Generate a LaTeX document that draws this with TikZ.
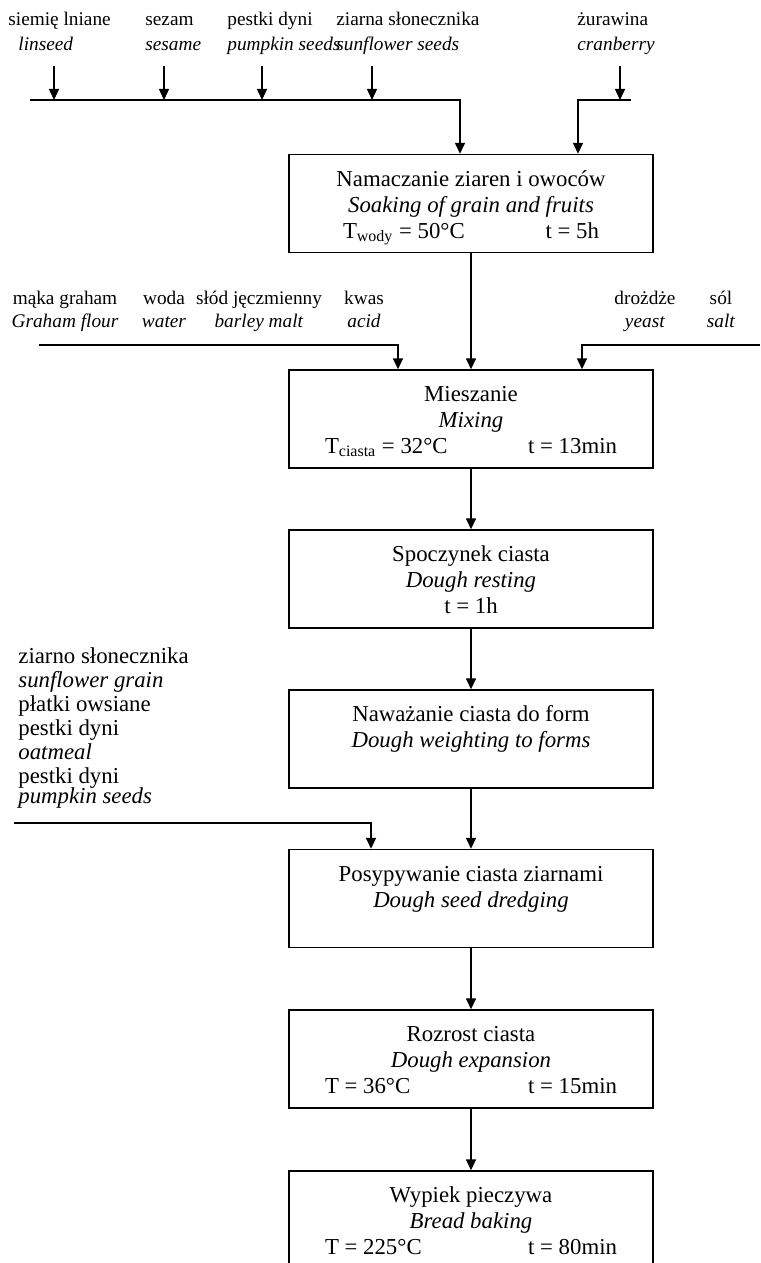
\documentclass[tikz,border=0pt]{standalone}
\usepackage{fontspec}
\setmainfont{Liberation Serif}
\usetikzlibrary{arrows.meta}

\tikzset{
  procbox/.style={draw, line width=0.7pt, minimum width=182pt, minimum height=49pt,
    align=center, inner sep=0pt, font=\fontsize{11.4}{13}\selectfont},
  toplabel/.style={inner sep=0pt, align=left, anchor=west, font=\fontsize{9.65}{12.6}\selectfont},
  midlabel/.style={inner sep=0pt, align=center, font=\fontsize{9.65}{11.5}\selectfont},
  sidelabel/.style={inner sep=0pt, align=left, anchor=north west, font=\fontsize{11.4}{12}\selectfont},
  bus/.style={line width=0.7pt},
  feed/.style={line width=0.75pt, -{Triangle[length=5.5pt,width=5pt]}},
}
\newcommand{\tline}[3]{\makebox[#1]{#2\hfill #3}}
\newcommand{\firstline}{\rule{0pt}{12.5pt}}

\begin{document}
\begin{tikzpicture}[x=0.5pt, y=-0.5pt]
\clip (0,0) rectangle (760,1263);

% process steps
\node[procbox] (soak) at (471,203.5) {\firstline Namaczanie ziaren i owoców\\ \textit{Soaking of grain and fruits}\\ \tline{128pt}{T\textsubscript{wody} = 50°C}{t = 5h}\strut};
\node[procbox] (mix) at (471,419) {\firstline Mieszanie\\ \textit{Mixing}\\ \tline{146pt}{T\textsubscript{ciasta} = 32°C}{t = 13min}\strut};
\node[procbox] (rest) at (471,579) {\firstline Spoczynek ciasta\\ \textit{Dough resting}\\ t = 1h\strut};
\node[procbox] (weigh) at (471,739) {\firstline Naważanie ciasta do form\\ \textit{Dough weighting to forms}\\ \strut};
\node[procbox] (dredge) at (471,898.5) {\firstline Posypywanie ciasta ziarnami\\ \textit{Dough seed dredging}\\ \strut};
\node[procbox] (grow) at (471,1059) {\firstline Rozrost ciasta\\ \textit{Dough expansion}\\ \tline{146pt}{T = 36°C}{t = 15min}\strut};
\node[procbox] (bake) at (471,1220) {\firstline Wypiek pieczywa\\ \textit{Bread baking}\\ \tline{146pt}{T = 225°C}{t = 80min}\strut};

\foreach \a/\b in {soak/mix, mix/rest, rest/weigh, weigh/dredge, dredge/grow, grow/bake}
  \draw[feed] (\a) -- (\b);

% seeds and fruits for soaking
\node[toplabel] (linseed) at (8,33) {\strut siemię lniane\\ \hspace*{5pt}\textit{linseed}\strut};
\node[toplabel] (sesame) at (145,33) {\strut sezam\\ \textit{sesame}\strut};
\node[toplabel] (pumpkin) at (227,33) {\strut pestki dyni\\ \textit{pumpkin seeds}\strut};
\node[toplabel] (sunflower) at (336,33) {\strut ziarna słonecznika\\ \textit{sunflower seeds}\strut};
\node[toplabel] (cranberry) at (577,33) {\strut żurawina\\ \textit{cranberry}\strut};

\coordinate (busL) at (30,100);
\coordinate (busR) at (631,100);
\foreach \x/\n in {54/a, 164/b, 262/c, 372/d, 620/e} {
  \coordinate (drop\n) at (\x,66);
  \draw[feed] (drop\n) -- (drop\n |- busL);
}
\draw[feed] (busL) -| ([xshift=-5.5pt]soak.north);
\draw[feed] (busR) -| ([xshift=53.5pt]soak.north);

% dough ingredients
\node[midlabel] (flour) at (65,311) {\strut mąka graham\\ \textit{Graham flour}\strut};
\node[midlabel] (water) at (164,311) {\strut woda\\ \textit{water}\strut};
\node[midlabel] (malt) at (259,311) {\strut słód jęczmienny\\ \textit{barley malt}\strut};
\node[midlabel] (acid) at (364,311) {\strut kwas\\ \textit{acid}\strut};
\node[midlabel] (yeast) at (645,311) {\strut drożdże\\ \textit{yeast}\strut};
\node[midlabel] (salt) at (721,311) {\strut sól\\ \textit{salt}\strut};

\coordinate (mixL) at (39,345);
\coordinate (mixR) at (760,345);
\draw[feed] (mixL) -| ([xshift=-36.5pt]mix.north);
\draw[feed] (mixR) -| ([xshift=55.5pt]mix.north);

% toppings
\node[sidelabel] (toppings) at (18,646) {\strut ziarno słonecznika\\ \textit{sunflower grain}\\ płatki owsiane\\ pestki dyni\\ \textit{oatmeal}\\ pestki dyni\\[-2pt] \textit{pumpkin seeds}\strut};

\coordinate (sideL) at (14,823);
\draw[feed] (sideL) -| ([xshift=-50pt]dredge.north);

\end{tikzpicture}
\end{document}
